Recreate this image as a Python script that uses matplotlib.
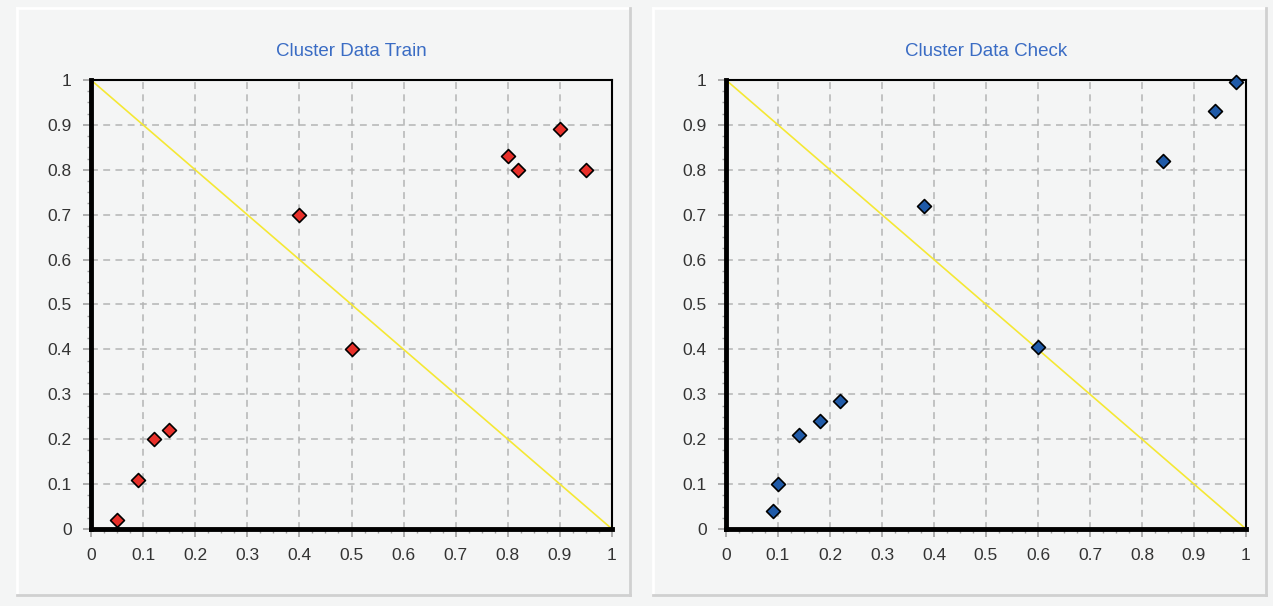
import numpy as np
import matplotlib.pyplot as plt
from matplotlib.ticker import MultipleLocator, FormatStrFormatter
from matplotlib.lines import Line2D

plt.rcParams['font.family'] = ['Liberation Sans', 'DejaVu Sans']

# data
train_x = [0.05, 0.09, 0.12, 0.15, 0.40, 0.50, 0.80, 0.82, 0.90, 0.95]
train_y = [0.02, 0.11, 0.20, 0.22, 0.70, 0.40, 0.83, 0.80, 0.89, 0.80]
check_x = [0.09, 0.10, 0.14, 0.18, 0.22, 0.38, 0.60, 0.84, 0.94, 0.98]
check_y = [0.04, 0.10, 0.21, 0.24, 0.285, 0.72, 0.405, 0.82, 0.93, 0.995]
line_x = [0, 1]
line_y = [1, 0]
titles = ["Cluster Data Train", "Cluster Data Check"]

W, H = 1273, 606
fig = plt.figure(figsize=(W / 100, H / 100), dpi=100, facecolor='#f4f5f5')

# panel bevels
for l, r in [(17, 630), (653, 1266)]:
    fig.add_artist(Line2D([l / W, r / W], [1 - 8 / H] * 2, color='white', lw=2))
    fig.add_artist(Line2D([l / W] * 2, [1 - 8 / H, 1 - 595 / H], color='white', lw=2))
    fig.add_artist(Line2D([l / W, r / W], [1 - 595 / H] * 2, color='#d0d0d0', lw=2))
    fig.add_artist(Line2D([r / W] * 2, [1 - 8 / H, 1 - 595 / H], color='#d0d0d0', lw=2))

def make_axes(left, right, title, xs, ys, color):
    ax = fig.add_axes([left / W, 1 - 529 / H, (right - left) / W, 449 / H])
    ax.set_facecolor('#f4f5f5')
    ax.plot(line_x, line_y, color='#f5e834', lw=1.2, zorder=2)
    ax.scatter(xs, ys, marker='D', s=50, color=color, edgecolor='black',
               linewidth=1.2, zorder=4, clip_on=False)
    ax.set_xlim(0, 1)
    ax.set_ylim(0, 1)
    ax.xaxis.set_major_locator(MultipleLocator(0.1))
    ax.yaxis.set_major_locator(MultipleLocator(0.1))
    ax.xaxis.set_minor_locator(MultipleLocator(0.025))
    ax.yaxis.set_minor_locator(MultipleLocator(0.025))
    ax.xaxis.set_major_formatter(FormatStrFormatter('%g'))
    ax.yaxis.set_major_formatter(FormatStrFormatter('%g'))
    ax.grid(True, which='major', color='#b4b4b4', linestyle=(0, (4.5, 3.5)), lw=1.1)
    ax.set_axisbelow(True)
    ax.tick_params(which='major', length=6, width=1.2, color='#a0a0a0',
                   labelsize=12.5, labelcolor='#333333', pad=8)
    ax.tick_params(which='minor', length=3, width=1, color='#a0a0a0')
    ax.spines['left'].set_linewidth(3.5)
    ax.spines['bottom'].set_linewidth(3.5)
    ax.spines['top'].set_linewidth(1.5)
    ax.spines['right'].set_linewidth(1.5)
    for s in ax.spines.values():
        s.set_zorder(3)
    ax.set_title(title, color='#3a6cc4', fontsize=13.5, pad=17)
    return ax

make_axes(91, 612, titles[0], train_x, train_y, '#e8302a')
make_axes(726, 1246, titles[1], check_x, check_y, '#1f5aa8')

fig.savefig('out.png', dpi=100, facecolor=fig.get_facecolor())
